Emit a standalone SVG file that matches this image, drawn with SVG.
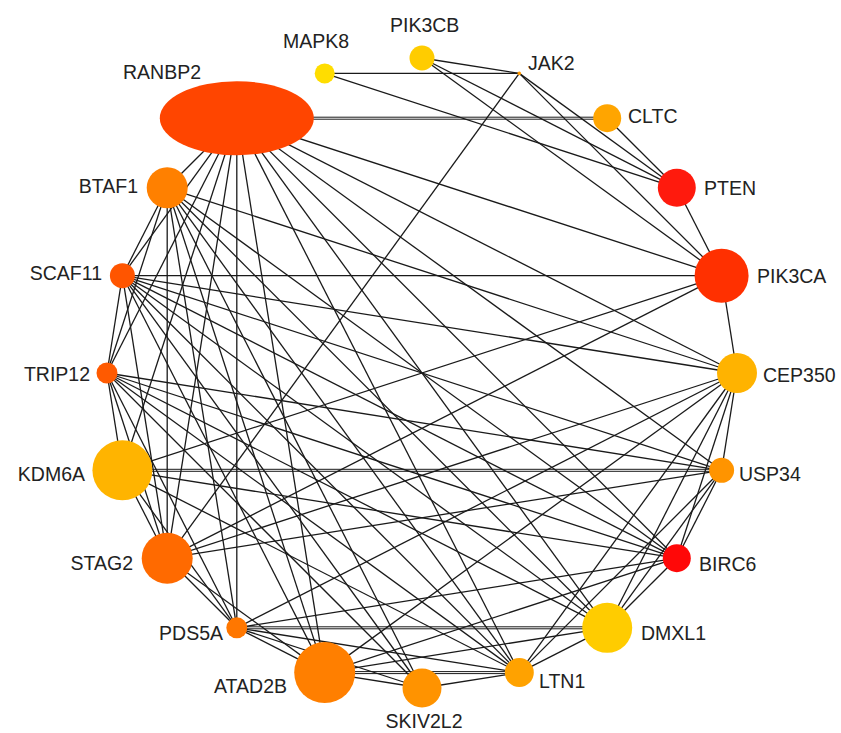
<svg xmlns="http://www.w3.org/2000/svg" width="841" height="733" viewBox="0 0 841 733">
<style>
.e{stroke:#1a1a1a;stroke-width:1.3;fill:none}
.d{stroke:#1a1a1a;stroke-width:1;fill:none}
.t{font-family:"Liberation Sans",Arial,sans-serif;font-size:19.5px;fill:#222}
.r{text-anchor:end}
.m{text-anchor:middle}
</style>
<rect width="841" height="733" fill="#fff"/>
<g id="edges">
<line class="e" x1="324.7" y1="73.4" x2="519.3" y2="73.4"/>
<line class="e" x1="324.7" y1="73.4" x2="676.8" y2="187.8"/>
<line class="e" x1="422" y1="58" x2="519.3" y2="73.4"/>
<line class="e" x1="422" y1="58" x2="676.8" y2="187.8"/>
<line class="e" x1="422" y1="58" x2="721.6" y2="275.7"/>
<line class="e" x1="519.3" y1="73.4" x2="676.8" y2="187.8"/>
<line class="e" x1="519.3" y1="73.4" x2="721.6" y2="275.7"/>
<line class="e" x1="519.3" y1="73.4" x2="167.2" y2="558.2"/>
<line class="d" x1="236.8" y1="117.2" x2="607.2" y2="117.2"/>
<line class="d" x1="236.8" y1="119.2" x2="607.2" y2="119.2"/>
<line class="e" x1="607.2" y1="118.2" x2="676.8" y2="187.8"/>
<line class="e" x1="676.8" y1="187.8" x2="721.6" y2="275.7"/>
<line class="e" x1="721.6" y1="275.7" x2="737" y2="373"/>
<line class="e" x1="122.4" y1="275.7" x2="721.6" y2="275.7"/>
<line class="e" x1="236.8" y1="118.2" x2="721.6" y2="275.7"/>
<line class="e" x1="122.4" y1="470.3" x2="721.6" y2="275.7"/>
<line class="e" x1="167.2" y1="558.2" x2="721.6" y2="275.7"/>
<line class="e" x1="236.8" y1="118.2" x2="167.2" y2="187.8"/>
<line class="e" x1="167.2" y1="187.8" x2="122.4" y2="275.7"/>
<line class="e" x1="122.4" y1="275.7" x2="107" y2="373"/>
<line class="e" x1="107" y1="373" x2="122.4" y2="470.3"/>
<line class="e" x1="122.4" y1="470.3" x2="167.2" y2="558.2"/>
<line class="e" x1="167.2" y1="558.2" x2="236.8" y2="627.8"/>
<line class="e" x1="236.8" y1="627.8" x2="324.7" y2="672.6"/>
<line class="e" x1="324.7" y1="672.6" x2="422" y2="688"/>
<line class="e" x1="422" y1="688" x2="519.3" y2="672.6"/>
<line class="e" x1="519.3" y1="672.6" x2="607.2" y2="627.8"/>
<line class="e" x1="607.2" y1="627.8" x2="676.8" y2="558.2"/>
<line class="e" x1="676.8" y1="558.2" x2="721.6" y2="470.3"/>
<line class="e" x1="721.6" y1="470.3" x2="737" y2="373"/>
<line class="e" x1="236.8" y1="118.2" x2="122.4" y2="275.7"/>
<line class="e" x1="236.8" y1="118.2" x2="107" y2="373"/>
<line class="e" x1="236.8" y1="118.2" x2="122.4" y2="470.3"/>
<line class="e" x1="236.8" y1="118.2" x2="167.2" y2="558.2"/>
<line class="e" x1="236.8" y1="118.2" x2="236.8" y2="627.8"/>
<line class="e" x1="236.8" y1="118.2" x2="324.7" y2="672.6"/>
<line class="e" x1="236.8" y1="118.2" x2="519.3" y2="672.6"/>
<line class="e" x1="236.8" y1="118.2" x2="607.2" y2="627.8"/>
<line class="e" x1="236.8" y1="118.2" x2="676.8" y2="558.2"/>
<line class="e" x1="236.8" y1="118.2" x2="721.6" y2="470.3"/>
<line class="e" x1="236.8" y1="118.2" x2="737" y2="373"/>
<line class="e" x1="167.2" y1="187.8" x2="107" y2="373"/>
<line class="e" x1="167.2" y1="187.8" x2="167.2" y2="558.2"/>
<line class="e" x1="167.2" y1="187.8" x2="236.8" y2="627.8"/>
<line class="e" x1="167.2" y1="187.8" x2="324.7" y2="672.6"/>
<line class="e" x1="167.2" y1="187.8" x2="422" y2="688"/>
<line class="e" x1="167.2" y1="187.8" x2="519.3" y2="672.6"/>
<line class="e" x1="167.2" y1="187.8" x2="607.2" y2="627.8"/>
<line class="e" x1="167.2" y1="187.8" x2="676.8" y2="558.2"/>
<line class="e" x1="167.2" y1="187.8" x2="737" y2="373"/>
<line class="e" x1="122.4" y1="275.7" x2="167.2" y2="558.2"/>
<line class="e" x1="122.4" y1="275.7" x2="324.7" y2="672.6"/>
<line class="e" x1="122.4" y1="275.7" x2="422" y2="688"/>
<line class="e" x1="122.4" y1="275.7" x2="519.3" y2="672.6"/>
<line class="e" x1="122.4" y1="275.7" x2="607.2" y2="627.8"/>
<line class="e" x1="122.4" y1="275.7" x2="676.8" y2="558.2"/>
<line class="e" x1="122.4" y1="275.7" x2="721.6" y2="470.3"/>
<line class="e" x1="122.4" y1="275.7" x2="737" y2="373"/>
<line class="e" x1="107" y1="373" x2="167.2" y2="558.2"/>
<line class="e" x1="107" y1="373" x2="236.8" y2="627.8"/>
<line class="e" x1="107" y1="373" x2="422" y2="688"/>
<line class="e" x1="107" y1="373" x2="519.3" y2="672.6"/>
<line class="e" x1="107" y1="373" x2="607.2" y2="627.8"/>
<line class="e" x1="107" y1="373" x2="676.8" y2="558.2"/>
<line class="e" x1="107" y1="373" x2="721.6" y2="470.3"/>
<line class="e" x1="122.4" y1="470.3" x2="236.8" y2="627.8"/>
<line class="e" x1="122.4" y1="470.3" x2="519.3" y2="672.6"/>
<line class="e" x1="122.4" y1="470.3" x2="676.8" y2="558.2"/>
<line class="d" x1="122.4" y1="469.3" x2="721.6" y2="469.3"/>
<line class="d" x1="122.4" y1="471.3" x2="721.6" y2="471.3"/>
<line class="e" x1="167.2" y1="558.2" x2="324.7" y2="672.6"/>
<line class="e" x1="167.2" y1="558.2" x2="721.6" y2="470.3"/>
<line class="e" x1="167.2" y1="558.2" x2="737" y2="373"/>
<line class="e" x1="236.8" y1="627.8" x2="422" y2="688"/>
<line class="e" x1="236.8" y1="627.8" x2="519.3" y2="672.6"/>
<line class="d" x1="236.8" y1="626.8" x2="607.2" y2="626.8"/>
<line class="d" x1="236.8" y1="628.8" x2="607.2" y2="628.8"/>
<line class="e" x1="236.8" y1="627.8" x2="676.8" y2="558.2"/>
<line class="e" x1="236.8" y1="627.8" x2="737" y2="373"/>
<line class="d" x1="324.7" y1="671.6" x2="519.3" y2="671.6"/>
<line class="d" x1="324.7" y1="673.6" x2="519.3" y2="673.6"/>
<line class="e" x1="324.7" y1="672.6" x2="607.2" y2="627.8"/>
<line class="e" x1="324.7" y1="672.6" x2="676.8" y2="558.2"/>
<line class="e" x1="324.7" y1="672.6" x2="737" y2="373"/>
<line class="e" x1="519.3" y1="672.6" x2="737" y2="373"/>
<line class="e" x1="519.3" y1="672.6" x2="721.6" y2="470.3"/>
<line class="e" x1="607.2" y1="627.8" x2="737" y2="373"/>
<line class="e" x1="607.2" y1="627.8" x2="721.6" y2="470.3"/>
<line class="e" x1="676.8" y1="558.2" x2="737" y2="373"/>
</g>
<g id="node-RANBP2"><ellipse cx="236.8" cy="118.2" rx="77" ry="37" fill="#FF4500"/><text class="t" x="123" y="79">RANBP2</text></g>
<g id="node-MAPK8"><circle cx="324.7" cy="73.4" r="10" fill="#FFDD00"/><text class="t" x="283" y="48">MAPK8</text></g>
<g id="node-PIK3CB"><circle cx="422" cy="58" r="12.5" fill="#FFCC00"/><text class="t" x="390" y="32">PIK3CB</text></g>
<g id="node-JAK2"><circle cx="519.3" cy="73.4" r="1.8" fill="#FF9900"/><text class="t" x="528" y="70">JAK2</text></g>
<g id="node-CLTC"><circle cx="607.2" cy="118.2" r="14" fill="#FFA500"/><text class="t" x="628" y="123">CLTC</text></g>
<g id="node-PTEN"><circle cx="676.8" cy="187.8" r="19" fill="#FF1A0D"/><text class="t" x="704" y="195">PTEN</text></g>
<g id="node-PIK3CA"><circle cx="721.6" cy="275.7" r="27" fill="#FF3000"/><text class="t" x="757" y="283">PIK3CA</text></g>
<g id="node-CEP350"><circle cx="737" cy="373" r="20" fill="#FFB300"/><text class="t" x="763" y="382">CEP350</text></g>
<g id="node-USP34"><circle cx="721.6" cy="470.3" r="12.5" fill="#FF9400"/><text class="t" x="739" y="481">USP34</text></g>
<g id="node-BIRC6"><circle cx="676.8" cy="558.2" r="14" fill="#FF0808"/><text class="t" x="699" y="571">BIRC6</text></g>
<g id="node-DMXL1"><circle cx="607.2" cy="627.8" r="25" fill="#FFCC00"/><text class="t" x="641" y="640">DMXL1</text></g>
<g id="node-LTN1"><circle cx="519.3" cy="672.6" r="14.5" fill="#FFA200"/><text class="t" x="539" y="688">LTN1</text></g>
<g id="node-SKIV2L2"><circle cx="422" cy="688" r="19.5" fill="#FF9300"/><text class="t m" x="424" y="728">SKIV2L2</text></g>
<g id="node-ATAD2B"><circle cx="324.7" cy="672.6" r="30.5" fill="#FF7F00"/><text class="t r" x="287" y="693">ATAD2B</text></g>
<g id="node-PDS5A"><circle cx="236.8" cy="627.8" r="10.5" fill="#FF7700"/><text class="t r" x="223" y="640">PDS5A</text></g>
<g id="node-STAG2"><circle cx="167.2" cy="558.2" r="25.5" fill="#FF6A00"/><text class="t r" x="133" y="570">STAG2</text></g>
<g id="node-KDM6A"><circle cx="122.4" cy="470.3" r="30" fill="#FFB400"/><text class="t r" x="85" y="481">KDM6A</text></g>
<g id="node-TRIP12"><circle cx="107" cy="373" r="10.5" fill="#FF5A00"/><text class="t r" x="90" y="381">TRIP12</text></g>
<g id="node-SCAF11"><circle cx="122.4" cy="275.7" r="12.5" fill="#FF5500"/><text class="t r" x="102" y="280">SCAF11</text></g>
<g id="node-BTAF1"><circle cx="167.2" cy="187.8" r="20.5" fill="#FF8000"/><text class="t r" x="138" y="193">BTAF1</text></g>
</svg>
